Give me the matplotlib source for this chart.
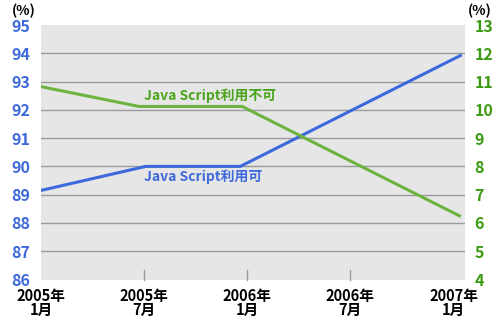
import matplotlib
matplotlib.use("Agg")
import matplotlib.pyplot as plt

plt.rcParams['font.family'] = ['Noto Sans CJK JP', 'DejaVu Sans']

# Data (x in months since 2005年1月)
tick_pos = [0, 6, 12, 18, 24]
tick_labels = ["2005年\n1月", "2005年\n7月", "2006年\n1月", "2006年\n7月", "2007年\n1月"]

js_on_x = [0, 6.1, 11.6, 24.4]
js_on = [89.15, 90.0, 90.0, 93.92]          # left axis (%)
js_off_x = [0, 5.7, 11.7, 24.35]
js_off = [10.82, 10.12, 10.12, 6.25]        # right axis (%)

left_ticks = list(range(86, 96))
right_ticks = list(range(4, 14))

blue = "#3d69dc"
green_line = "#6cb33f"
green_text = "#3a9a10"
green_label = "#4aa51c"

fig = plt.figure(figsize=(5.0, 3.19), dpi=100)
ax = fig.add_axes([41/500, 1-279.5/319, (465-41)/500, (279.5-25)/319])
ax.set_facecolor("#e6e6e6")
ax.set_xlim(0, 24.67)
ax.set_ylim(86, 95)
for s in ax.spines.values():
    s.set_visible(False)

# gridlines
for v in left_ticks[1:-1]:
    ax.axhline(v, color="#9a9a9a", lw=1.0, zorder=1)

# small inner tick marks
for p in tick_pos[1:-1]:
    ax.plot([p, p], [86, 86.35], color="#9a9a9a", lw=1.0, zorder=1, clip_on=False)

ax.set_yticks(left_ticks)
ax.set_yticklabels([str(v) for v in left_ticks], color=blue, fontsize=11.5, fontweight='bold')
ax.tick_params(axis='y', length=0, pad=8)
ax.set_xticks(tick_pos)
ax.set_xticklabels(tick_labels, fontsize=10.5, fontweight='bold', color="black", linespacing=0.82)
ax.tick_params(axis='x', length=0, pad=6)

ax2 = ax.twinx()
ax2.set_ylim(4, 13)
for s in ax2.spines.values():
    s.set_visible(False)
ax2.set_yticks(right_ticks)
ax2.set_yticklabels([str(v) for v in right_ticks], color=green_text, fontsize=11.5, fontweight='bold')
ax2.tick_params(axis='y', length=0, pad=7)

ax.plot(js_on_x, js_on, color=blue, lw=2.2, zorder=3, solid_joinstyle='miter')
ax2.plot(js_off_x, js_off, color=green_line, lw=2.2, zorder=3, solid_joinstyle='miter')

ax.text(6.0, 92.49, "Java Script利用不可", color=green_label, fontsize=10, fontweight='bold',
        ha='left', va='center', zorder=4)
ax.text(6.0, 89.62, "Java Script利用可", color=blue, fontsize=10, fontweight='bold',
        ha='left', va='center', zorder=4)

fig.text(23.5/500, 1-11/319, "(%)", fontsize=10, fontweight='bold', ha='center', va='center')
fig.text(480/500, 1-11/319, "(%)", fontsize=10, fontweight='bold', ha='center', va='center')

fig.savefig("out.png", dpi=100)
